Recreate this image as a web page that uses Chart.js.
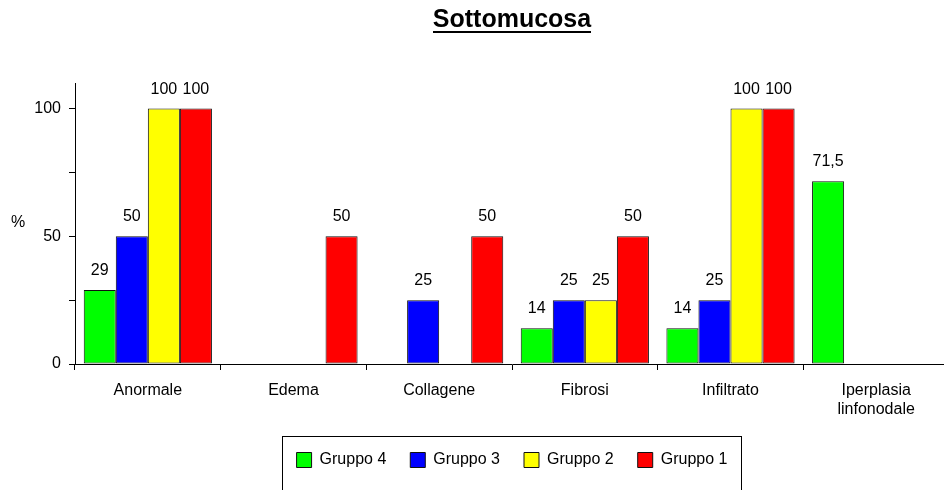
<!DOCTYPE html>
<html>
<head>
<meta charset="utf-8">
<script src="https://cdn.jsdelivr.net/npm/chart.js@4"></script>
<style>
  html, body { margin: 0; padding: 0; background: #fff; overflow: hidden; }
  #wrap { width: 949px; height: 490px; }
</style>
</head>
<body>
<div id="wrap"><canvas id="chart" width="949" height="490"></canvas></div>
<script>
// data
const categories = ["Anormale", "Edema", "Collagene", "Fibrosi", "Infiltrato", ["Iperplasia", "linfonodale"]];
const seriesNames = ["Gruppo 4", "Gruppo 3", "Gruppo 2", "Gruppo 1"];
const gruppo4 = [29, 0, 0, 14, 14, 71.5];
const gruppo3 = [50, 0, 25, 25, 25, 0];
const gruppo2 = [100, 0, 0, 25, 100, 0];
const gruppo1 = [100, 50, 50, 50, 100, 0];
const yTicks = [0, 25, 50, 75, 100];
const yLabelled = [0, 50, 100];

const colors = ["#00ff00", "#0000ff", "#ffff00", "#ff0000"];
const FONT = "'Liberation Sans', Arial, sans-serif";

Chart.defaults.font.family = FONT;
Chart.defaults.font.size = 16;
Chart.defaults.color = "#000";

// value labels above bars, "%" label, title underline, legend frame
const extras = {
    id: "extras",
    afterDatasetsDraw(chart) {
        const ctx = chart.ctx;
        ctx.save();
        ctx.font = "16px " + FONT;
        ctx.fillStyle = "#000";
        ctx.textAlign = "center";
        ctx.textBaseline = "alphabetic";
        chart.data.datasets.forEach((ds, i) => {
            chart.getDatasetMeta(i).data.forEach((bar, j) => {
                const v = ds.data[j];
                if (!v) return;
                ctx.fillText(String(v).replace(".", ","), bar.x, bar.y - 15);
            });
        });
        ctx.restore();
    },
    afterDraw(chart) {
        const ctx = chart.ctx;
        ctx.save();
        // y axis unit
        ctx.font = "16px " + FONT;
        ctx.fillStyle = "#000";
        ctx.textAlign = "center";
        ctx.textBaseline = "middle";
        ctx.fillText("%", 18, 223);

        // underline the title
        const t = chart.titleBlock;
        ctx.font = "bold 25px " + FONT;
        const w = ctx.measureText(t.options.text).width;
        const cx = (t.left + t.right) / 2;
        ctx.fillRect(Math.round(cx - w / 2), 31, Math.round(w), 2);

        // frame round the legend
        const hb = chart.legend.legendHitBoxes;
        if (hb.length) {
            const left = Math.min(...hb.map(h => h.left)) - 15;
            const right = Math.max(...hb.map(h => h.left + h.width)) + 13;
            const top = hb[0].top - 16;
            ctx.strokeStyle = "#000";
            ctx.lineWidth = 1;
            ctx.strokeRect(Math.round(left) + 0.5, Math.round(top) + 0.5, Math.round(right - left), 80);
        }
        ctx.restore();
    }
};

const ctx = document.getElementById("chart").getContext("2d");

new Chart(ctx, {
    type: "bar",
    data: {
        labels: categories,
        datasets: [gruppo4, gruppo3, gruppo2, gruppo1].map((d, i) => ({
            label: seriesNames[i],
            data: d,
            backgroundColor: colors[i],
            borderColor: "#101010",
            borderWidth: 1,
            borderSkipped: false,
            categoryPercentage: 0.88,
            barPercentage: 1
        }))
    },
    options: {
        responsive: false,
        animation: false,
        devicePixelRatio: 1,
        layout: {
            padding: { left: 0, right: 0, top: 0, bottom: 12 }
        },
        scales: {
            x: {
                grid: {
                    display: true,
                    drawOnChartArea: false,
                    offset: true,
                    tickLength: 6,
                    color: "#000"
                },
                border: { color: "#000", width: 1 },
                ticks: {
                    autoSkip: false,
                    maxRotation: 0,
                    padding: 11,
                    font: { size: 16 }
                },
                afterFit: s => { s.height = 64; }
            },
            y: {
                min: 0,
                max: 110,
                grid: {
                    display: true,
                    drawOnChartArea: false,
                    tickLength: 6,
                    color: "#000"
                },
                border: { color: "#000", width: 1 },
                ticks: {
                    padding: 8,
                    font: { size: 16 },
                    callback: v => yLabelled.includes(v) ? v : ""
                },
                afterBuildTicks: s => { s.ticks = yTicks.map(v => ({ value: v })); },
                afterFit: s => { s.width = 75; }
            }
        },
        plugins: {
            title: {
                display: true,
                text: "Sottomucosa",
                fullSize: false,
                color: "#000",
                font: { size: 25, weight: "bold" },
                padding: { top: 5, bottom: 48 }
            },
            legend: {
                position: "bottom",
                fullSize: false,
                labels: {
                    boxWidth: 15,
                    boxHeight: 15,
                    padding: 24,
                    color: "#000",
                    font: { size: 16 }
                }
            },
            tooltip: { enabled: false }
        }
    },
    plugins: [extras]
});
</script>
</body>
</html>
